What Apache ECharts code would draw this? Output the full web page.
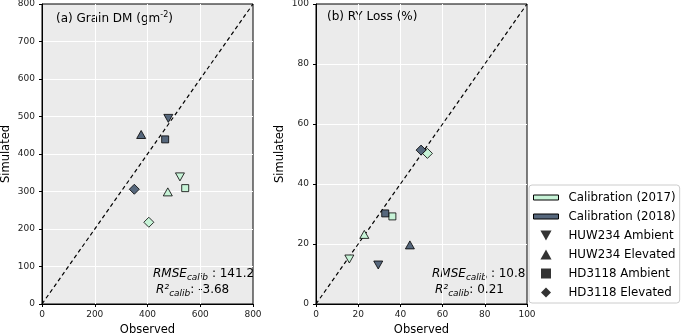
<!DOCTYPE html>
<html>
<head>
<meta charset="utf-8">
<script src="https://cdn.jsdelivr.net/npm/echarts@6/dist/echarts.min.js"></script>
<style>
html, body { margin: 0; padding: 0; background: #fff; }
#chart { width: 683px; height: 335px; }
</style>
</head>
<body>
<div id="chart"></div>
<script>
// order of points: HUW234 Ambient, HUW234 Elevated, HD3118 Ambient, HD3118 Elevated
var markerNames = ['HUW234 Ambient', 'HUW234 Elevated', 'HD3118 Ambient', 'HD3118 Elevated'];
var yearNames = ['Calibration (2017)', 'Calibration (2018)'];

var grainObs2017 = [523, 477, 543, 405];
var grainSim2017 = [339, 299, 309, 218];
var grainObs2018 = [479, 376, 467, 350];
var grainSim2018 = [495, 452, 439, 306];

var ryObs2017 = [15.8, 22.9, 36.2, 52.8];
var rySim2017 = [15.0, 23.2, 29.2, 50.2];
var ryObs2018 = [29.5, 44.5, 32.8, 49.8];
var rySim2018 = [13.0, 19.7, 30.2, 51.3];

var grainLine = [[0, 0], [800, 800]];
var ryLine = [[0, 0], [100, 100]];

var FONT = 'DejaVu Sans';
var colors = ['#c7f3d7', '#56677c'];
var symbols = ['path://M0,0L10,0L5,9Z', 'path://M5,0L10,9L0,9Z', 'rect', 'diamond'];
var symbolSizes = [[9, 8], [9, 8], [7, 7], [10, 10]];
var legendIcons = ['path://M0,0L10,0L5,9Z', 'path://M5,0L10,9L0,9Z', 'path://M0,0h10v10h-10Z', 'path://M5,0L10,5L5,10L0,5Z'];

function pts(obs, sim) {
  return obs.map(function (x, i) {
    return { value: [x, sim[i]], symbol: symbols[i], symbolSize: symbolSizes[i] };
  });
}

function xAxis(idx, max, step) {
  return {
    gridIndex: idx, type: 'value', min: 0, max: max, interval: step,
    name: 'Observed', nameLocation: 'middle', nameGap: 20,
    nameTextStyle: { fontFamily: FONT, fontSize: 11.5, color: '#000' },
    axisLine: { show: true, lineStyle: { color: '#000', width: 1 } },
    axisTick: { show: true, length: 3, lineStyle: { color: '#000' } },
    axisLabel: { fontFamily: FONT, fontSize: 9, color: '#222', margin: 6 },
    splitLine: { show: true, showMinLine: false, showMaxLine: false, lineStyle: { color: '#fff', width: 1 } }
  };
}
function yAxis(idx, max, step) {
  return {
    gridIndex: idx, type: 'value', min: 0, max: max, interval: step,
    name: 'Simulated', nameLocation: 'middle', nameGap: 30, nameRotate: 90,
    nameTextStyle: { fontFamily: FONT, fontSize: 11.5, color: '#000' },
    axisLine: { show: true, lineStyle: { color: '#000', width: 1 } },
    axisTick: { show: true, length: 3, lineStyle: { color: '#000' } },
    axisLabel: { fontFamily: FONT, fontSize: 9, color: '#222', margin: 7 },
    splitLine: { show: true, showMinLine: false, showMaxLine: false, lineStyle: { color: '#fff', width: 1 } }
  };
}

function scatter(name, idx, data, color) {
  return {
    name: name, type: 'scatter', xAxisIndex: idx, yAxisIndex: idx, data: data, z: 5,
    itemStyle: { color: color, borderColor: '#000', borderWidth: 0.8, opacity: 1 }
  };
}
function diag(idx, data) {
  return {
    type: 'line', xAxisIndex: idx, yAxisIndex: idx, data: data, symbol: 'none', silent: true, z: 3,
    lineStyle: { color: '#000', width: 1.2, type: [4, 3] }
  };
}

var series = [
  diag(0, grainLine),
  diag(1, ryLine),
  scatter(yearNames[0], 0, pts(grainObs2017, grainSim2017), colors[0]),
  scatter(yearNames[1], 0, pts(grainObs2018, grainSim2018), colors[1]),
  scatter(yearNames[0], 1, pts(ryObs2017, rySim2017), colors[0]),
  scatter(yearNames[1], 1, pts(ryObs2018, rySim2018), colors[1])
];
markerNames.forEach(function (n) {
  series.push({ name: n, type: 'scatter', xAxisIndex: 0, yAxisIndex: 0, data: [] });
});

var legendData = yearNames.map(function (n, i) {
  return { name: n, icon: 'path://M0,0h25v5h-25Z', itemStyle: { color: colors[i], borderColor: '#000', borderWidth: 1 } };
}).concat(markerNames.map(function (n, i) {
  return { name: n, icon: legendIcons[i], itemStyle: { color: '#000', borderWidth: 0 } };
}));

var statRich = {
  i: { fontFamily: FONT, fontSize: 12, fontStyle: 'italic', fill: '#000', lineHeight: 16, verticalAlign: 'middle' },
  s: { fontFamily: FONT, fontSize: 9, fontStyle: 'italic', fill: '#000', lineHeight: 16, verticalAlign: 'bottom' },
  n: { fontFamily: FONT, fontSize: 12, fill: '#000', lineHeight: 16, verticalAlign: 'middle' }
};
function statText(x, y, rmse, r2) {
  return [
    { type: 'text', left: x, top: y, style: { rich: statRich, text: '{i|RMSE}{s|calib}{n| : ' + rmse + '}' } },
    { type: 'text', left: x + 3, top: y + 16, style: { rich: statRich, text: '{i|R²}{s|calib}{n|: ' + r2 + '}' } }
  ];
}
function titleText(x, y, before, sup, after) {
  return {
    type: 'text', left: x, top: y,
    style: {
      rich: {
        n: { fontFamily: FONT, fontSize: 12, fill: '#000', lineHeight: 16, verticalAlign: 'middle' },
        u: { fontFamily: FONT, fontSize: 8, fill: '#000', lineHeight: 16, verticalAlign: 'top' }
      },
      text: '{n|' + before + '}' + (sup ? '{u|' + sup + '}' : '') + '{n|' + after + '}'
    }
  };
}

var chart = echarts.init(document.getElementById('chart'));
chart.setOption({
  animation: false,
  grid: [
    { left: 42, top: 4, width: 211, height: 300, show: true, backgroundColor: '#ebebeb', borderColor: '#000', borderWidth: 1, containLabel: false, outerBoundsMode: 'none' },
    { left: 316, top: 4, width: 211, height: 300, show: true, backgroundColor: '#ebebeb', borderColor: '#000', borderWidth: 1, containLabel: false, outerBoundsMode: 'none' }
  ],
  xAxis: [xAxis(0, 800, 200), xAxis(1, 100, 20)],
  yAxis: [yAxis(0, 800, 100), yAxis(1, 100, 20)],
  legend: {
    orient: 'vertical', left: 529, top: 185,
    padding: [6, 4, 4, 4], itemGap: 6, itemWidth: 25, itemHeight: 10,
    borderColor: '#cccccc', borderWidth: 1, borderRadius: 3, backgroundColor: '#fff',
    selectedMode: false,
    textStyle: { fontFamily: FONT, fontSize: 11.8, color: '#000', lineHeight: 13, padding: [0, 0, 0, 5] },
    data: legendData
  },
  graphic: [
    titleText(56, 11, '(a) Grain DM (gm', '-2', ')'),
    titleText(327, 11, '(b) RY Loss (%)', '', '')
  ].concat(statText(153, 268, '141.2', '-3.68')).concat(statText(432, 268, '10.8', '0.21')),
  series: series
});
</script>
</body>
</html>
